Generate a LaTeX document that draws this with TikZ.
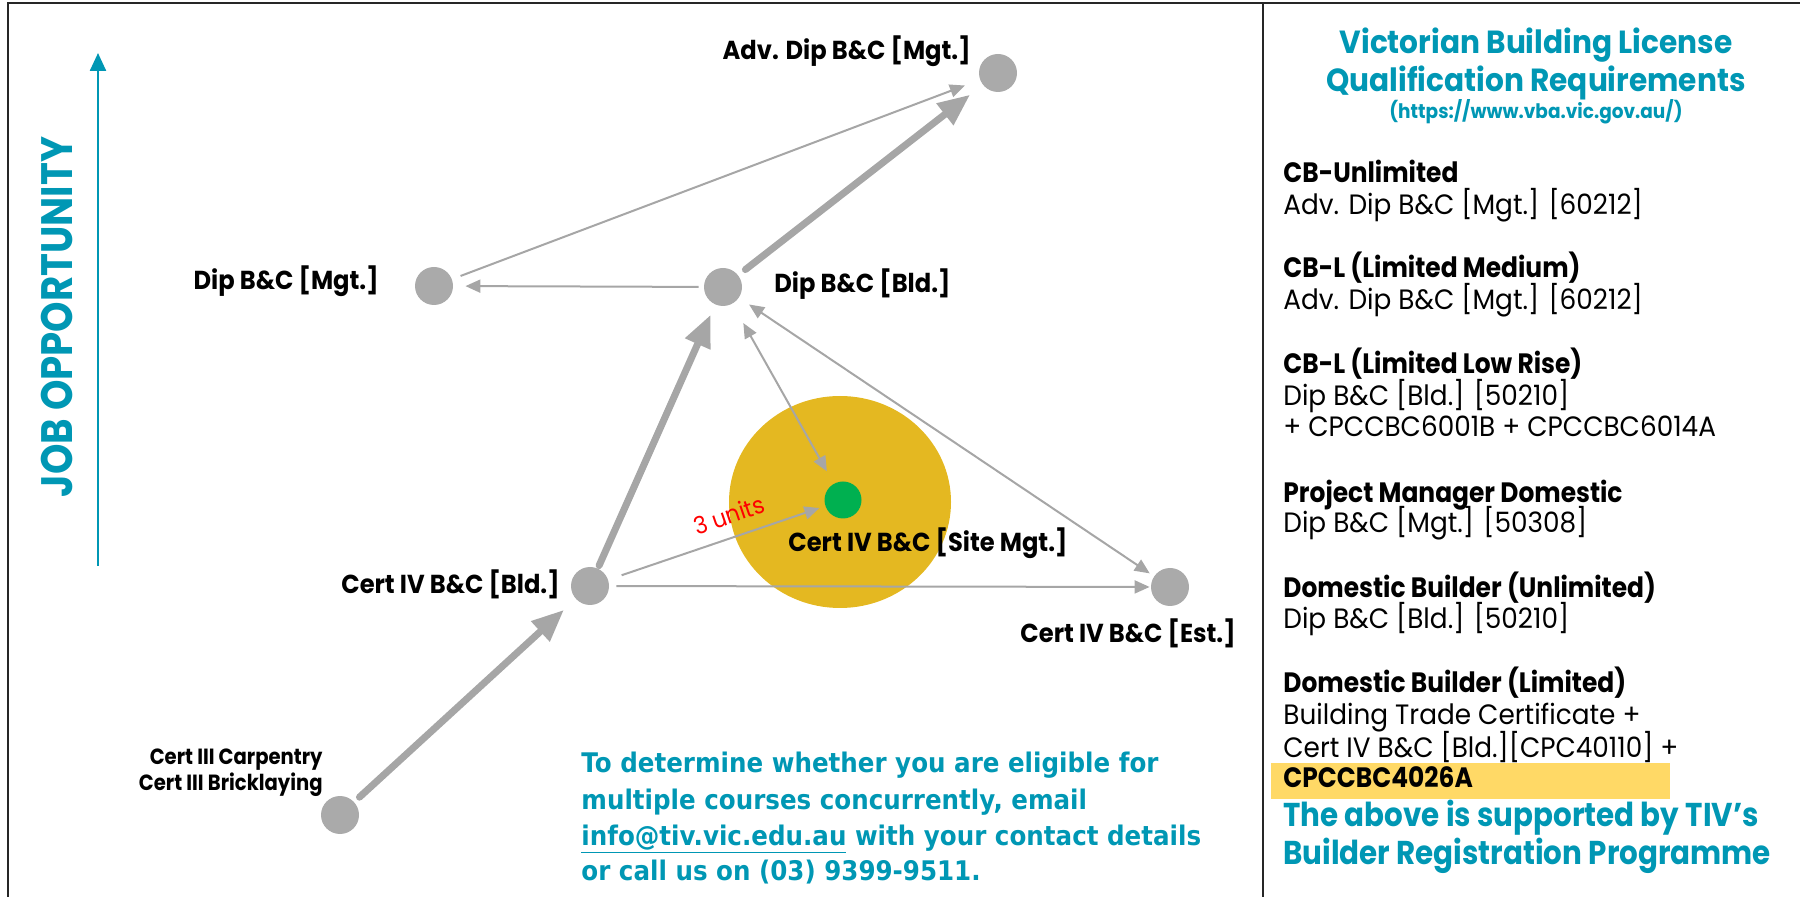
\documentclass[tikz,border=0pt]{standalone}
\usepackage{fontspec}
\setmainfont{Poppins}
\newfontfamily\gothic[FakeStretch=0.94]{Poppins}
\newfontfamily\gothicB[FakeStretch=0.89]{Poppins}
\newfontfamily\gothicL[FakeStretch=0.93]{Poppins}
\newfontfamily\gothicT[FakeStretch=0.925]{Poppins}
\newfontfamily\gothicJ[FakeStretch=0.88]{Poppins}
\newfontfamily\tah[FakeStretch=0.91]{DejaVu Sans}
\usetikzlibrary{arrows.meta,shapes.geometric}
\definecolor{tealc}{RGB}{0,151,180}
\definecolor{dotgray}{RGB}{170,170,170}
\definecolor{arrgray}{RGB}{166,166,166}
\definecolor{goldc}{RGB}{228,184,33}
\definecolor{greenc}{RGB}{0,176,80}
\definecolor{hilite}{RGB}{255,217,102}
\tikzset{
 dot/.style={circle, fill=dotgray, inner sep=0pt, minimum size=19pt},
 lbl/.style={font=\gothicL\bfseries\fontsize{13}{15}\selectfont, inner sep=0pt},
 thickarr/.style={draw=arrgray, line width=3.5pt, line cap=round, -{Triangle[length=16pt,width=13pt]}},
 thinarr/.style={draw=arrgray, line width=1pt, -{Triangle[length=7.5pt,width=6.5pt]}},
 thinboth/.style={draw=arrgray, line width=1pt, {Triangle[length=7.5pt,width=6.5pt]}-{Triangle[length=7.5pt,width=6.5pt]}},
 body/.style={font=\gothic\fontsize{14}{16}\selectfont, anchor=base west, inner sep=0pt},
 bodyb/.style={font=\gothicB\bfseries\fontsize{14}{16}\selectfont, anchor=base west, inner sep=0pt},
 ttl/.style={font=\gothicT\bfseries\fontsize{16}{18}\selectfont, text=tealc, anchor=base, inner sep=0pt},
 note/.style={font=\tah\bfseries\fontsize{13.5}{16}\selectfont, text=tealc, anchor=base west, inner sep=0pt},
 frameline/.style={draw=black!85, line width=1pt},
}
\begin{document}
\begin{tikzpicture}[x=0.5pt,y=-0.5pt]
\useasboundingbox (0,0) rectangle (1800,897);
% frame
\coordinate (fTL) at (7.6,3.3);
\coordinate (fBL) at (7.6,900);
\coordinate (fTR) at (1800,3.3);
\coordinate (dT) at (1263,3.3);
\coordinate (dB) at (1263,900);
\draw[frameline] (fBL) -- (fTL) -- (fTR);
\draw[frameline] (dT) -- (dB);
% axis
\coordinate (axb) at (98,566);
\coordinate (axt) at (98,53);
\draw[tealc, line width=1.2pt, -{Triangle[length=9pt,width=8pt]}] (axb) -- (axt);
\node[font=\gothicJ\bfseries\fontsize{22}{24}\selectfont, text=tealc, rotate=90, inner sep=0pt] (job) at (57,317) {JOB OPPORTUNITY};
% gold circle
\node[ellipse, fill=goldc, minimum width=111pt, minimum height=106pt, inner sep=0pt] (gold) at (840,502) {};
% nodes
\node[dot] (adv) at (998,73) {};
\node[dot] (dipm) at (434,286) {};
\node[dot] (dipb) at (723,287) {};
\node[dot] (c4b) at (590,586) {};
\node[dot] (est) at (1170,587) {};
\node[dot] (c3) at (340,815) {};
\node[circle, fill=greenc, inner sep=0pt, minimum size=18.5pt] (site) at (843,500) {};
% arrows
\draw[thickarr, shorten <=3.5pt, shorten >=8pt] (c3) -- (c4b);
\draw[thickarr, shorten <=1.5pt, shorten >=5.5pt] (c4b) -- (dipb);
\draw[thickarr, shorten <=4.5pt, shorten >=8pt] (dipb) -- (adv);
\draw[thinarr, shorten <=4.5pt, shorten >=8pt] (dipm) -- (adv);
\draw[thinarr, shorten <=2.5pt, shorten >=6pt] (dipb) -- (dipm);
\draw[thinboth, shorten <=11pt, shorten >=7pt] (dipb) -- (site);
\draw[thinboth, shorten <=2.5pt, shorten >=6pt] (est) -- (dipb);
\draw[thinarr, shorten <=3.5pt, shorten >=0.5pt] (c4b) -- (est);
\draw[thinarr, shorten <=7pt, shorten >=3pt] (c4b) -- (site);
% labels
\node[lbl, anchor=base east] (ladv) at (971,60) {Adv. Dip B\&C [Mgt.]};
\node[lbl, anchor=base east] (ldipm) at (379,290) {Dip B\&C [Mgt.]};
\node[lbl, anchor=base west] (ldipb) at (774,293) {Dip B\&C [Bld.]};
\node[lbl, anchor=base east] (lc4b) at (560,594) {Cert IV B\&C [Bld.]};
\node[lbl, anchor=base east] (lest) at (1236,643) {Cert IV B\&C [Est.]};
\node[lbl, anchor=base west] (lsite) at (788,552) {Cert IV B\&C [Site Mgt.]};
\node[font=\gothicB\bfseries\fontsize{11}{13}\selectfont, anchor=base east, inner sep=0pt] (lc3a) at (323,765) {Cert III Carpentry};
\node[font=\gothicB\bfseries\fontsize{11}{13}\selectfont, anchor=base east, inner sep=0pt] (lc3b) at (323,791) {Cert III Bricklaying};
\node[font=\gothic\fontsize{12}{14}\selectfont, text=red, rotate=19, inner sep=0pt] (units) at (729,515) {3 units};
% bottom note
\node[note] (n1) at (581,773) {To determine whether you are eligible for};
\node[note] (n2) at (581,809) {multiple courses concurrently, email};
\node[note] (n3) at (581,845) {\underline{info@tiv.vic.edu.au} with your contact details};
\node[note] (n4) at (581,880) {or call us on (03) 9399-9511.};
% right panel
\node[ttl] (t1) at (1536,54) {Victorian Building License};
\node[ttl] (t2) at (1536,92) {Qualification Requirements};
\node[font=\gothicT\bfseries\fontsize{10}{12}\selectfont, text=tealc, anchor=base, inner sep=0pt] (t3) at (1536,119) {(https://www.vba.vic.gov.au/)};
\node[bodyb] (r1) at (1283,183) {CB-Unlimited};
\node[body] (r2) at (1283,215) {Adv. Dip B\&C [Mgt.] [60212]};
\node[bodyb] (r3) at (1283,278) {CB-L (Limited Medium)};
\node[body] (r4) at (1283,310) {Adv. Dip B\&C [Mgt.] [60212]};
\node[bodyb] (r5) at (1283,374) {CB-L (Limited Low Rise)};
\node[body] (r6) at (1283,406) {Dip B\&C [Bld.] [50210]};
\node[body] (r7) at (1283,437) {+ CPCCBC6001B + CPCCBC6014A};
\node[bodyb] (r8) at (1283,503) {Project Manager Domestic};
\node[body] (r9) at (1283,533) {Dip B\&C [Mgt.] [50308]};
\node[bodyb] (r10) at (1283,598) {Domestic Builder (Unlimited)};
\node[body] (r11) at (1283,629) {Dip B\&C [Bld.] [50210]};
\node[bodyb] (r12) at (1283,693) {Domestic Builder (Limited)};
\node[body] (r13) at (1283,725) {Building Trade Certificate +};
\node[body] (r14) at (1283,757) {Cert IV B\&C [Bld.][CPC40110] +};
\coordinate (hl1) at (1271,763);
\coordinate (hl2) at (1670,799);
\fill[hilite] (hl1) rectangle (hl2);
\node[bodyb] (r15) at (1283,788) {CPCCBC4026A};
\node[font=\gothicB\bfseries\fontsize{16.5}{18}\selectfont, text=tealc, anchor=base west, inner sep=0pt] (r16) at (1283,827) {The above is supported by TIV’s};
\node[font=\gothicB\bfseries\fontsize{16.5}{18}\selectfont, text=tealc, anchor=base west, inner sep=0pt] (r17) at (1283,864) {Builder Registration Programme};
\end{tikzpicture}
\end{document}
